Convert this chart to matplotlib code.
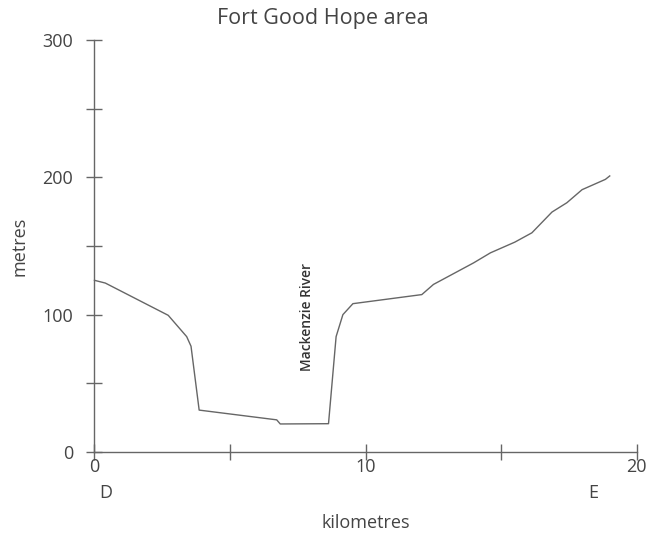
import matplotlib.pyplot as plt
from matplotlib.ticker import MultipleLocator, FuncFormatter

plt.rcParams['font.family'] = ['Open Sans', 'DejaVu Sans']

# profile D-E near Fort Good Hope (km, metres)
km = [0.0, 0.4, 2.72, 3.40, 3.56, 3.86, 6.72, 6.85, 8.63, 8.91, 9.16, 9.53,
      12.07, 12.5, 13.98, 14.6, 15.5, 16.13, 16.87, 17.42, 17.98, 18.84, 19.0]
metres = [125, 123, 99.5, 84, 77, 30.5, 23.4, 20.4, 20.6, 84, 100, 108,
          114.6, 122, 137.7, 145, 152.8, 159.6, 174.7, 181.5, 191, 198.5, 201]

grey = '#666666'
txt = '#444444'

fig = plt.figure(figsize=(6.48, 5.33), dpi=100)
ax = fig.add_axes([0.1458, 0.152, 0.837, 0.773])

ax.plot(km, metres, color=grey, lw=1.0, clip_on=False)

ax.set_xlim(0, 20)
ax.set_ylim(0, 300)
for s in ['top', 'right']:
    ax.spines[s].set_visible(False)
for s in ['left', 'bottom']:
    ax.spines[s].set_color(grey)
    ax.spines[s].set_linewidth(1.0)

ax.xaxis.set_major_locator(MultipleLocator(5))
ax.yaxis.set_major_locator(MultipleLocator(50))
ax.xaxis.set_major_formatter(FuncFormatter(lambda v, p: '%d' % v if v % 10 == 0 else ''))
ax.yaxis.set_major_formatter(FuncFormatter(lambda v, p: '%d' % v if v % 100 == 0 else ''))
ax.tick_params(direction='inout', length=11, width=1.0, color=grey,
               labelsize=13, labelcolor=txt)
ax.tick_params(axis='y', pad=10)
ax.tick_params(axis='x', pad=-1)

ax.text(0.4, -30, 'D', ha='center', va='center', fontsize=13, color=txt, clip_on=False)
ax.text(18.4, -30, 'E', ha='center', va='center', fontsize=13, color=txt, clip_on=False)
ax.text(7.84, 98, 'Mackenzie River', rotation=90, ha='center', va='center',
        fontsize=10, color='#333333', fontweight='semibold')

ax.set_xlabel('kilometres', fontsize=13, color=txt, labelpad=27)
ax.set_ylabel('metres', fontsize=13, color=txt, labelpad=10)
fig.text(0.498, 0.966, 'Fort Good Hope area', ha='center', va='center',
         fontsize=15.5, color=txt)

fig.savefig('out.png', dpi=100)
